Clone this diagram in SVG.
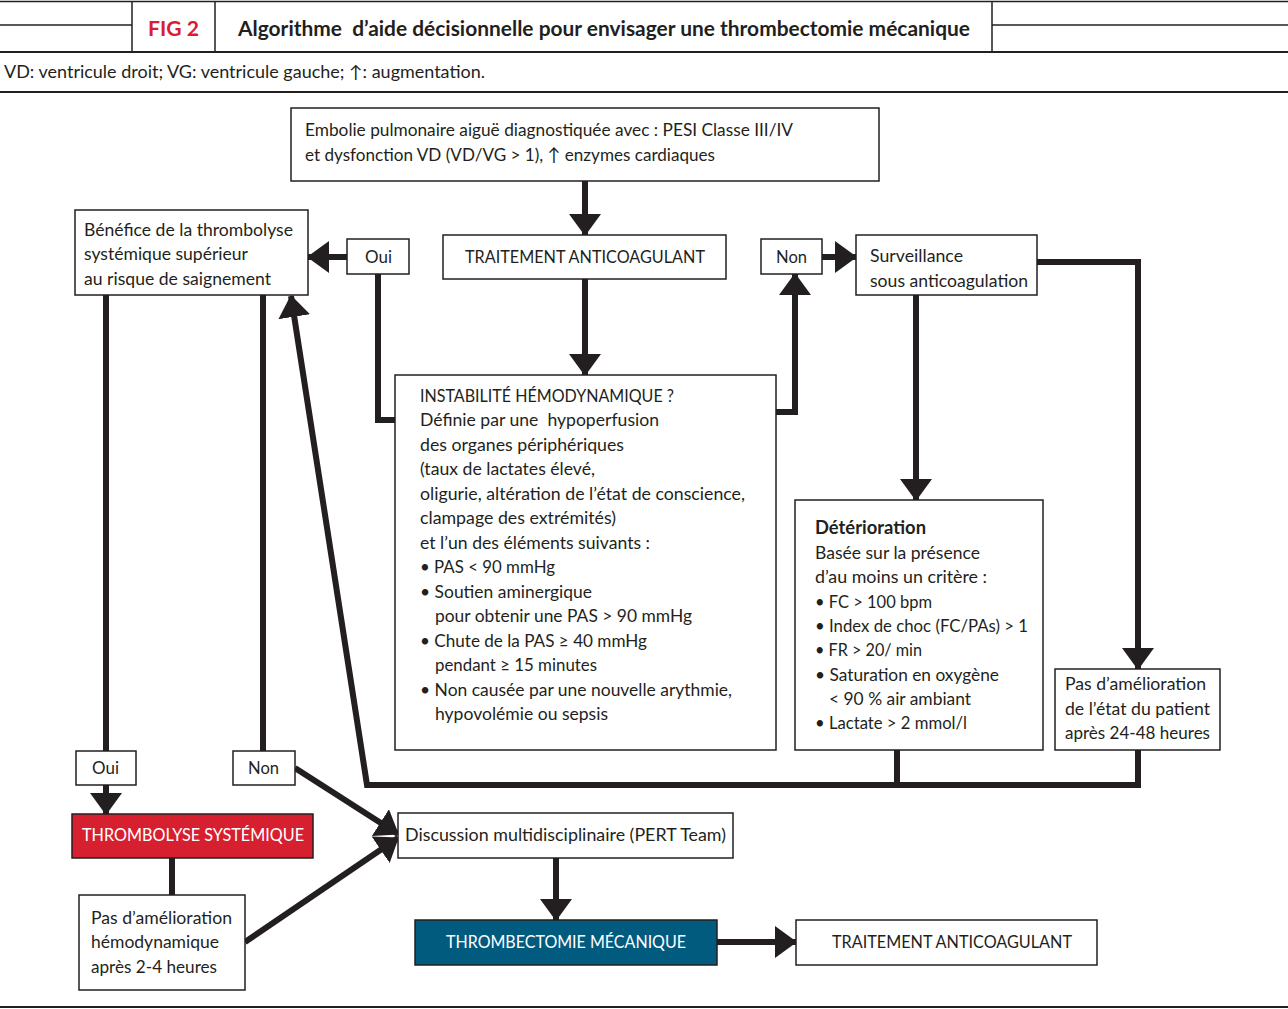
<svg xmlns="http://www.w3.org/2000/svg" width="1288" height="1009" viewBox="0 0 1288 1009">
<style>
  .t{font-family:Lato,"Open Sans","Liberation Sans",sans-serif;font-size:18px;fill:#231f20}
  .w{fill:#ffffff}
  .b{font-weight:bold}
  .pre{white-space:pre}
  .box{fill:#ffffff;stroke:#231f20;stroke-width:1.5}
  .c{fill:none;stroke:#231f20;stroke-width:6;stroke-linejoin:miter}
  .hl{stroke:#231f20;fill:none}
</style>
<defs>
  <marker id="ah" markerUnits="userSpaceOnUse" markerWidth="22" markerHeight="32" viewBox="0 0 22 32" refX="21" refY="16" orient="auto">
    <path d="M0,0 L22,16 L0,32 Z" fill="#231f20"/>
  </marker>
</defs>
<rect width="1288" height="1009" fill="#ffffff"/>

<g id="header">
  <line class="hl" x1="0" y1="1.5" x2="1288" y2="1.5" stroke-width="1.5"/>
  <line class="hl" x1="0" y1="25" x2="132" y2="25" stroke-width="1.5"/>
  <line class="hl" x1="992" y1="25" x2="1288" y2="25" stroke-width="1.5"/>
  <line class="hl" x1="0" y1="52" x2="1288" y2="52" stroke-width="2"/>
  <line class="hl" x1="132" y1="1.5" x2="132" y2="52" stroke-width="1.5"/>
  <line class="hl" x1="215" y1="1.5" x2="215" y2="52" stroke-width="1.5"/>
  <line class="hl" x1="992" y1="1.5" x2="992" y2="52" stroke-width="1.5"/>
  <text class="t b" x="148" y="36" style="fill:#d7202f;font-size:21px" textLength="51" lengthAdjust="spacingAndGlyphs">FIG 2</text>
  <text class="t b pre" x="238" y="36" style="font-size:20px" textLength="732" lengthAdjust="spacingAndGlyphs">Algorithme  d’aide décisionnelle pour envisager une thrombectomie mécanique</text>
  <text class="t" x="4" y="78" style="font-size:17px" textLength="481" lengthAdjust="spacingAndGlyphs">VD: ventricule droit; VG: ventricule gauche; ↑: augmentation.</text>
  <line class="hl" x1="0" y1="92" x2="1288" y2="92" stroke-width="2"/>
  <line class="hl" x1="0" y1="1007" x2="1288" y2="1007" stroke-width="2"/>
</g>

<g id="connectors">
  <path class="c" d="M585,181 V235" marker-end="url(#ah)"/>
  <path class="c" d="M585,279 V375" marker-end="url(#ah)"/>
  <path class="c" d="M347,257 H308" marker-end="url(#ah)"/>
  <path class="c" d="M378,274 V420 H395"/>
  <path class="c" d="M776,412 H795 V274" marker-end="url(#ah)"/>
  <path class="c" d="M822,257 H856" marker-end="url(#ah)"/>
  <path class="c" d="M916,295 V500" marker-end="url(#ah)"/>
  <path class="c" d="M1037,262 H1138 V669" marker-end="url(#ah)"/>
  <path class="c" d="M897,750 V785"/>
  <path class="c" d="M1138,750 V785 H367 L291,296" marker-end="url(#ah)"/>
  <path class="c" d="M106,295 V751"/>
  <path class="c" d="M263,295 V751"/>
  <path class="c" d="M106,785 V814" marker-end="url(#ah)"/>
  <path class="c" d="M295,768 L398,834" marker-end="url(#ah)"/>
  <path class="c" d="M172,858 V895"/>
  <path class="c" d="M245,942 L398,838" marker-end="url(#ah)"/>
  <path class="c" d="M556,858 V920" marker-end="url(#ah)"/>
  <path class="c" d="M717,942 H796" marker-end="url(#ah)"/>
</g>

<g id="n_embolie">
  <rect class="box" x="291" y="108" width="588" height="73"/>
  <text class="t" x="305" y="136" textLength="488" lengthAdjust="spacingAndGlyphs">Embolie pulmonaire aiguë diagnostiquée avec : PESI Classe III/IV</text>
  <text class="t" x="305" y="161" textLength="410" lengthAdjust="spacingAndGlyphs">et dysfonction VD (VD/VG &gt; 1), ↑ enzymes cardiaques</text>
</g>

<g id="n_traitement1">
  <rect class="box" x="443" y="235" width="283" height="44"/>
  <text class="t" x="465" y="263" textLength="240" lengthAdjust="spacingAndGlyphs">TRAITEMENT ANTICOAGULANT</text>
</g>

<g id="n_oui1">
  <rect class="box" x="347" y="239" width="62" height="35"/>
  <text class="t" x="365" y="263" textLength="27" lengthAdjust="spacingAndGlyphs">Oui</text>
</g>

<g id="n_non1">
  <rect class="box" x="761" y="239" width="61" height="35"/>
  <text class="t" x="776" y="263" textLength="31" lengthAdjust="spacingAndGlyphs">Non</text>
</g>

<g id="n_benefice">
  <rect class="box" x="75" y="210" width="233" height="85"/>
  <text class="t" x="84" y="236" textLength="209" lengthAdjust="spacingAndGlyphs">Bénéfice de la thrombolyse</text>
  <text class="t" x="84" y="260" textLength="164" lengthAdjust="spacingAndGlyphs">systémique supérieur</text>
  <text class="t" x="84" y="285" textLength="187" lengthAdjust="spacingAndGlyphs">au risque de saignement</text>
</g>

<g id="n_surveillance">
  <rect class="box" x="856" y="235" width="181" height="60"/>
  <text class="t" x="870" y="262" textLength="93" lengthAdjust="spacingAndGlyphs">Surveillance</text>
  <text class="t" x="870" y="287" textLength="158" lengthAdjust="spacingAndGlyphs">sous anticoagulation</text>
</g>

<g id="n_instabilite">
  <rect class="box" x="395" y="375" width="381" height="375"/>
  <text class="t" x="420" y="402" textLength="254" lengthAdjust="spacingAndGlyphs">INSTABILITÉ HÉMODYNAMIQUE ?</text>
  <text class="t pre" x="420" y="426" textLength="239" lengthAdjust="spacingAndGlyphs">Définie par une  hypoperfusion</text>
  <text class="t" x="420" y="451" textLength="204" lengthAdjust="spacingAndGlyphs">des organes périphériques</text>
  <text class="t" x="420" y="475" textLength="175" lengthAdjust="spacingAndGlyphs">(taux de lactates élevé,</text>
  <text class="t" x="420" y="500" textLength="325" lengthAdjust="spacingAndGlyphs">oligurie, altération de l’état de conscience,</text>
  <text class="t" x="420" y="524" textLength="196" lengthAdjust="spacingAndGlyphs">clampage des extrémités)</text>
  <text class="t" x="420" y="549" textLength="230" lengthAdjust="spacingAndGlyphs">et l’un des éléments suivants :</text>
  <text class="t" x="420" y="573" textLength="135" lengthAdjust="spacingAndGlyphs">• PAS &lt; 90 mmHg</text>
  <text class="t" x="420" y="598" textLength="172" lengthAdjust="spacingAndGlyphs">• Soutien aminergique</text>
  <text class="t" x="435" y="622" textLength="257" lengthAdjust="spacingAndGlyphs">pour obtenir une PAS &gt; 90 mmHg</text>
  <text class="t" x="420" y="647" textLength="227" lengthAdjust="spacingAndGlyphs">• Chute de la PAS ≥ 40 mmHg</text>
  <text class="t" x="435" y="671" textLength="162" lengthAdjust="spacingAndGlyphs">pendant ≥ 15 minutes</text>
  <text class="t" x="420" y="696" textLength="312" lengthAdjust="spacingAndGlyphs">• Non causée par une nouvelle arythmie,</text>
  <text class="t" x="435" y="720" textLength="173" lengthAdjust="spacingAndGlyphs">hypovolémie ou sepsis</text>
</g>

<g id="n_deterioration">
  <rect class="box" x="795" y="500" width="248" height="250"/>
  <text class="t b" x="815" y="534" textLength="111" lengthAdjust="spacingAndGlyphs">Détérioration</text>
  <text class="t" x="815" y="559" textLength="165" lengthAdjust="spacingAndGlyphs">Basée sur la présence</text>
  <text class="t" x="815" y="583" textLength="172" lengthAdjust="spacingAndGlyphs">d’au moins un critère :</text>
  <text class="t" x="815" y="608" textLength="117" lengthAdjust="spacingAndGlyphs">• FC &gt; 100 bpm</text>
  <text class="t" x="815" y="632" textLength="213" lengthAdjust="spacingAndGlyphs">• Index de choc (FC/PAs) &gt; 1</text>
  <text class="t" x="815" y="656" textLength="107" lengthAdjust="spacingAndGlyphs">• FR &gt; 20/ min</text>
  <text class="t" x="815" y="681" textLength="184" lengthAdjust="spacingAndGlyphs">• Saturation en oxygène</text>
  <text class="t" x="829" y="705" textLength="142" lengthAdjust="spacingAndGlyphs">&lt; 90 % air ambiant</text>
  <text class="t" x="815" y="729" textLength="152" lengthAdjust="spacingAndGlyphs">• Lactate &gt; 2 mmol/l</text>
</g>

<g id="n_pasamelioration_patient">
  <rect class="box" x="1055" y="669" width="165" height="81"/>
  <text class="t" x="1065" y="690" textLength="141" lengthAdjust="spacingAndGlyphs">Pas d’amélioration</text>
  <text class="t" x="1065" y="715" textLength="145" lengthAdjust="spacingAndGlyphs">de l’état du patient</text>
  <text class="t" x="1065" y="739" textLength="145" lengthAdjust="spacingAndGlyphs">après 24-48 heures</text>
</g>

<g id="n_oui2">
  <rect class="box" x="76" y="751" width="60" height="34"/>
  <text class="t" x="92" y="774" textLength="27" lengthAdjust="spacingAndGlyphs">Oui</text>
</g>

<g id="n_non2">
  <rect class="box" x="233" y="751" width="62" height="34"/>
  <text class="t" x="248" y="774" textLength="31" lengthAdjust="spacingAndGlyphs">Non</text>
</g>

<g id="n_thrombolyse">
  <rect x="72" y="814" width="241" height="44" fill="#d7202f" stroke="#231f20" stroke-width="1.5"/>
  <text class="t w" x="82" y="841" textLength="222" lengthAdjust="spacingAndGlyphs">THROMBOLYSE SYSTÉMIQUE</text>
</g>

<g id="n_discussion">
  <rect class="box" x="398" y="813" width="335" height="45"/>
  <text class="t" x="405" y="841" textLength="321" lengthAdjust="spacingAndGlyphs">Discussion multidisciplinaire (PERT Team)</text>
</g>

<g id="n_pasamelioration_hemo">
  <rect class="box" x="79" y="895" width="166" height="95"/>
  <text class="t" x="91" y="924" textLength="141" lengthAdjust="spacingAndGlyphs">Pas d’amélioration</text>
  <text class="t" x="91" y="948" textLength="128" lengthAdjust="spacingAndGlyphs">hémodynamique</text>
  <text class="t" x="91" y="973" textLength="126" lengthAdjust="spacingAndGlyphs">après 2-4 heures</text>
</g>

<g id="n_thrombectomie">
  <rect x="415" y="920" width="302" height="45" fill="#005b7f" stroke="#231f20" stroke-width="1.5"/>
  <text class="t w" x="446" y="948" textLength="240" lengthAdjust="spacingAndGlyphs">THROMBECTOMIE MÉCANIQUE</text>
</g>

<g id="n_traitement2">
  <rect class="box" x="796" y="920" width="301" height="45"/>
  <text class="t" x="832" y="948" textLength="240" lengthAdjust="spacingAndGlyphs">TRAITEMENT ANTICOAGULANT</text>
</g>
</svg>
